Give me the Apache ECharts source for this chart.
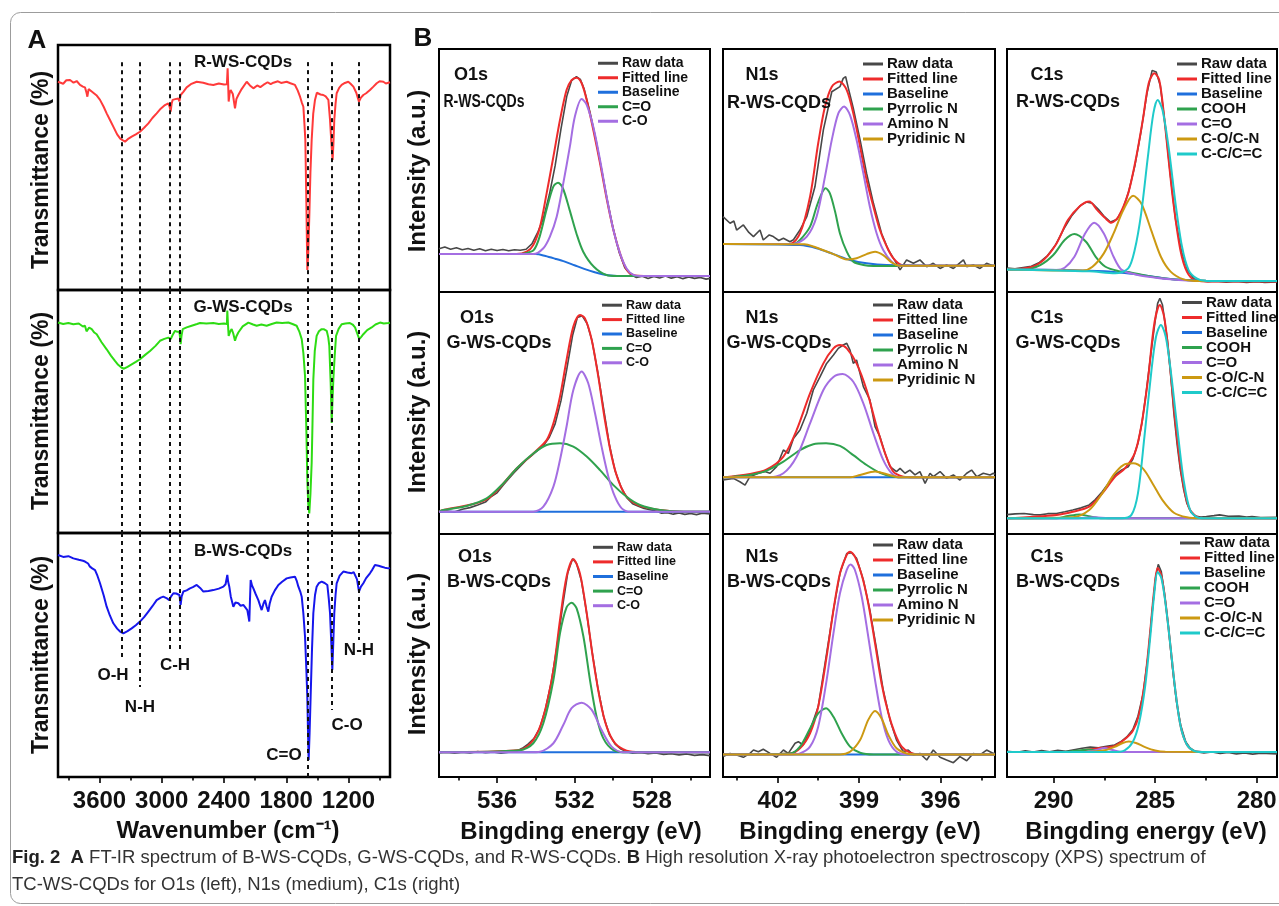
<!DOCTYPE html>
<html><head><meta charset="utf-8">
<script src="https://cdn.jsdelivr.net/npm/echarts@6/dist/echarts.min.js"></script>
<style>html,body{margin:0;padding:0;background:#fff}#c{width:1279px;height:906px}</style>
</head><body><div id="c"></div>
<script>
const FONT = '"Liberation Sans", Arial, sans-serif';
// ---------- FT-IR (panel A): [wavenumber, transmittance a.u.] ----------
const irTicksMajor = [3600,3000,2400,1800,1200];
const irTicksMinor = [3900,3300,2700,2100,1500,900];
const irR = [[4000,85.0],[3950,84.2],[3920,85.6],[3884,85.7],[3850,84.6],[3820,85.3],[3788,83.7],[3760,83.0],[3740,82.7],[3725,80.5],[3717,78.9],[3705,82.0],[3692,82.7],[3675,81.0],[3659,81.6],[3630,79.5],[3595,77.6],[3560,74.8],[3531,72.1],[3500,69.5],[3467,66.7],[3430,63.5],[3400,61.8],[3386,61.2],[3354,60.5],[3320,61.8],[3290,62.6],[3250,63.5],[3210,64.6],[3170,66.2],[3129,68.0],[3090,70.2],[3049,72.1],[3010,74.0],[2969,75.5],[2937,76.2],[2925,75.0],[2914,72.8],[2905,76.0],[2895,77.6],[2870,77.9],[2840,78.2],[2830,77.0],[2818,79.6],[2790,81.0],[2760,82.7],[2720,84.0],[2663,85.0],[2600,84.6],[2550,84.0],[2503,83.7],[2450,84.3],[2400,83.9],[2381,83.7],[2372,84.0],[2365,90.5],[2360,84.0],[2355,76.9],[2345,80.5],[2336,81.6],[2315,80.0],[2294,74.1],[2280,78.0],[2262,79.6],[2230,82.0],[2181,85.0],[2150,83.5],[2117,82.3],[2080,83.5],[2050,82.8],[2021,83.7],[1980,84.8],[1950,84.0],[1924,84.6],[1880,85.2],[1850,84.5],[1796,85.0],[1760,84.4],[1716,83.7],[1690,81.5],[1667,78.9],[1650,76.5],[1635,74.8],[1625,68.0],[1616,61.2],[1607,38.0],[1597,8.2],[1588,15.0],[1578,29.9],[1567,48.0],[1555,61.2],[1540,72.0],[1523,77.6],[1505,80.5],[1491,81.0],[1470,79.8],[1443,79.6],[1420,79.0],[1394,77.6],[1385,73.0],[1378,69.4],[1365,60.0],[1353,53.1],[1345,60.0],[1337,69.4],[1325,76.0],[1314,80.3],[1290,82.5],[1266,83.7],[1235,84.5],[1202,85.0],[1180,84.2],[1153,83.0],[1125,80.5],[1099,76.9],[1080,78.5],[1057,79.6],[1030,80.3],[993,81.6],[960,83.0],[928,84.4],[900,85.2],[864,85.0],[840,84.3],[816,84.6],[800,84.8]];
const irG = [[4000,86.6],[3950,86.0],[3900,86.4],[3852,85.9],[3800,86.2],[3760,85.0],[3740,85.3],[3725,83.0],[3717,82.5],[3700,84.5],[3675,83.9],[3650,82.5],[3627,81.8],[3580,78.5],[3531,75.6],[3490,73.0],[3451,70.8],[3420,69.2],[3386,68.0],[3364,67.6],[3330,68.4],[3290,69.4],[3250,70.4],[3210,71.5],[3160,73.3],[3113,74.9],[3060,77.0],[3017,79.1],[2975,79.9],[2937,80.4],[2925,80.0],[2914,79.8],[2895,81.5],[2872,83.2],[2850,82.8],[2830,82.8],[2822,80.0],[2818,77.7],[2810,81.0],[2798,83.9],[2760,84.6],[2712,85.3],[2660,86.0],[2631,86.4],[2570,86.2],[2503,86.4],[2450,86.0],[2400,86.2],[2381,85.9],[2372,86.0],[2368,91.5],[2362,86.0],[2355,81.1],[2340,83.0],[2326,83.9],[2310,82.0],[2294,79.1],[2280,81.0],[2262,82.5],[2220,85.0],[2165,86.6],[2120,85.8],[2085,85.3],[2040,85.8],[1989,85.3],[1940,86.0],[1892,86.6],[1840,86.4],[1780,86.6],[1740,86.0],[1700,85.3],[1675,83.0],[1651,79.8],[1635,74.0],[1619,64.6],[1605,40.0],[1597,21.9],[1588,12.0],[1578,8.1],[1567,16.0],[1555,28.8],[1547,45.0],[1539,63.2],[1525,75.0],[1507,81.1],[1485,83.0],[1459,83.9],[1435,83.8],[1410,83.2],[1395,80.5],[1385,77.0],[1372,62.0],[1362,45.3],[1354,55.0],[1346,63.2],[1333,73.0],[1320,81.1],[1295,84.0],[1266,85.9],[1230,86.2],[1186,86.4],[1160,85.8],[1137,84.6],[1115,82.0],[1096,79.8],[1075,80.8],[1057,81.8],[1020,83.5],[977,84.6],[940,85.8],[896,86.6],[860,86.2],[816,86.4],[800,86.5]];
const irB = [[4000,91.0],[3950,90.2],[3900,90.5],[3852,89.6],[3800,89.0],[3760,88.6],[3740,88.3],[3710,87.5],[3692,86.2],[3670,85.5],[3643,84.8],[3620,82.5],[3595,79.4],[3560,74.5],[3531,69.8],[3500,66.2],[3467,63.0],[3430,60.8],[3402,59.6],[3370,58.9],[3330,59.8],[3290,60.9],[3250,62.2],[3210,63.7],[3170,65.5],[3129,67.8],[3090,70.0],[3049,72.5],[3010,73.5],[2985,73.9],[2950,73.2],[2927,72.5],[2910,74.0],[2888,75.3],[2860,75.2],[2830,74.6],[2822,72.0],[2818,70.5],[2808,74.0],[2792,76.0],[2760,76.5],[2728,77.3],[2700,77.8],[2663,78.7],[2630,77.5],[2599,76.0],[2550,76.2],[2503,76.6],[2450,77.2],[2406,78.0],[2385,79.0],[2368,82.8],[2360,80.0],[2349,78.0],[2335,74.0],[2326,73.2],[2310,69.8],[2290,71.5],[2262,71.2],[2240,70.2],[2214,70.5],[2195,69.5],[2175,68.4],[2165,66.0],[2156,63.7],[2150,72.0],[2143,80.7],[2130,78.5],[2117,77.3],[2095,75.0],[2069,72.5],[2050,70.0],[2037,68.4],[2020,71.0],[2005,72.5],[1990,70.0],[1973,67.8],[1960,71.0],[1941,73.9],[1910,76.5],[1876,78.7],[1840,80.0],[1796,81.4],[1760,81.8],[1716,82.1],[1700,80.5],[1683,78.0],[1665,76.0],[1651,73.9],[1635,67.0],[1619,57.5],[1607,45.0],[1597,32.9],[1590,18.0],[1584,7.0],[1575,18.0],[1565,32.9],[1552,52.0],[1539,67.1],[1523,74.5],[1507,78.0],[1485,79.5],[1459,80.1],[1430,79.5],[1404,78.7],[1390,73.0],[1378,67.1],[1366,55.0],[1356,43.9],[1346,56.0],[1337,67.1],[1325,74.5],[1314,79.4],[1285,82.5],[1250,84.2],[1210,83.8],[1170,83.5],[1150,84.0],[1137,84.2],[1118,81.0],[1099,76.0],[1080,78.0],[1057,79.4],[1030,81.5],[993,83.5],[970,85.0],[945,86.9],[910,86.6],[880,86.2],[850,85.8],[816,85.5],[800,85.7]];
// guide lines: wavenumber, top in first panel, end in last panel
const irGuides = [3386, 3210, 2920, 2824, 1597, 1362, 1099];
const irGuideTop = 93;
const irGuideEnds = [49.2, 36.9, 52.0, 52.0, 0, 27.5, 56.1];
const irBandLabels = [['O-H',3470,41.8],['N-H',3210,28.7],['C-H',2872,45.9],['C=O',1822,9.0],['C-O',1214,21.3],['N-H',1099,52.0]];

// ---------- XPS O1s ----------
const o1sMajor = [536,532,528], o1sMinor = [538,534,530,526];
const rawO1sR = [[539,17.8],[538.7,18.5],[538.4,17.6],[538.1,18.2],[537.8,17.4],[537.5,17.9],[537.2,17.2],[536.9,17.8],[536.6,17.0],[536.3,17.6],[536.0,17.1],[535.7,17.5],[535.4,17.0],[535.1,17.4],[534.8,17.2],[534.5,17.6],[534.2,19.8],[533.9,24.5],[533.6,30.5],[533.3,40.0],[533.0,52.0],[532.7,67.0],[532.4,80.5],[532.15,87.0],[531.9,88.6],[531.7,87.5],[531.5,83.5],[531.2,74.0],[530.9,63.0],[530.6,50.5],[530.3,37.5],[530.0,26.0],[529.7,16.5],[529.4,10.0],[529.1,7.2],[528.8,6.0],[528.5,6.5],[528.2,5.6],[527.9,6.4],[527.6,5.8],[527.3,6.6],[527.0,5.7],[526.7,6.3],[526.4,5.5],[526.1,6.2],[525.8,5.6],[525.5,6.0],[525.2,5.3],[525.0,5.6]];
const fitO1sR = [[539,15.6],[535,15.6],[534.47,16.6],[534.13,19.3],[533.78,26.9],[533.44,40.6],[533.09,55.7],[532.75,70.8],[532.41,83.1],[532.15,87.2],[531.89,88.2],[531.63,85.9],[531.37,79.0],[531.03,66.7],[530.68,53.0],[530.34,38.5],[529.99,25.5],[529.65,15.9],[529.31,9.3],[528.96,7.0],[528.4,6.6],[525,6.6]];
const baseO1sR = [[539,15.6],[534,15.6],[533.5,14.8],[533,13.7],[532.5,12.5],[532,11.0],[531.5,9.5],[531,8.2],[530.5,7.2],[530,6.7],[529.5,6.6],[525,6.6]];
const dblO1sR = [[539,15.6],[535,15.6],[534.5,16.0],[534.1,17.3],[533.8,22.8],[533.45,33.7],[533.1,43.3],[532.85,45.0],[532.6,42.7],[532.25,33.7],[531.9,24.1],[531.55,16.6],[531.0,10.4],[530.35,7.0],[529.8,6.6],[525,6.6]];
const sglO1sR = [[539,15.6],[534.13,15.6],[533.61,18.0],[533.27,22.8],[532.92,31.0],[532.58,44.7],[532.24,59.8],[531.98,72.2],[531.63,79.4],[531.37,77.0],[531.03,68.0],[530.68,54.3],[530.34,39.2],[529.99,25.5],[529.65,15.9],[529.31,9.7],[528.96,7.0],[528.6,6.6],[525,6.6]];

const rawO1sG = [[539,9.0],[538.6,9.5],[538.2,9.1],[537.8,10.2],[537.4,10.9],[537.0,12.0],[536.6,13.2],[536.3,15.5],[536.0,17.0],[535.7,20.0],[535.4,22.8],[535.1,25.5],[534.8,28.0],[534.5,30.5],[534.2,32.5],[533.9,34.5],[533.6,36.5],[533.3,40.0],[533.0,45.5],[532.7,55.0],[532.4,68.0],[532.1,82.0],[531.85,89.5],[531.6,90.2],[531.35,87.0],[531.1,80.0],[530.8,67.0],[530.5,52.0],[530.2,37.0],[529.9,26.0],[529.6,19.5],[529.3,15.0],[529.0,12.5],[528.7,11.5],[528.4,10.5],[528.1,10.0],[527.8,9.5],[527.5,8.6],[527.2,8.8],[526.9,8.2],[526.6,8.7],[526.3,8.1],[526.0,8.5],[525.7,8.0],[525.4,8.6],[525.0,8.3]];
const fitO1sG = [[539,9.2],[538.78,9.9],[536.54,14.3],[534.99,27.1],[534.13,33.3],[533.44,38.8],[533.09,45.7],[532.75,56.7],[532.41,71.9],[532.06,85.7],[531.72,90.5],[531.46,89.1],[531.11,80.2],[530.77,65.0],[530.43,47.1],[530.08,32.0],[529.74,22.3],[529.31,15.4],[528.62,11.6],[527.58,9.9],[526.38,9.2],[525,9.2]];
const baseO1sG = [[539,9.2],[525,9.2]];
const dblO1sG = [[539,9.2],[538.78,9.9],[537.57,11.6],[536.54,14.7],[535.68,20.9],[534.99,27.1],[534.13,33.3],[533.44,36.8],[532.75,37.5],[532.06,36.1],[531.37,32.0],[530.68,26.4],[529.99,20.2],[529.31,15.4],[528.62,12.0],[527.58,9.9],[526.38,9.2],[525,9.2]];
const sglO1sG = [[539,9.2],[534.13,9.2],[533.61,11.3],[533.09,19.6],[532.75,30.6],[532.41,44.4],[532.06,59.5],[531.63,67.1],[531.29,62.3],[530.94,49.9],[530.6,36.1],[530.25,23.7],[529.91,15.4],[529.56,10.6],[529.13,9.2],[525,9.2]];

const rawO1sB = [[539,10.0],[538.6,10.4],[538.2,9.8],[537.8,10.3],[537.4,9.9],[537.0,10.5],[536.6,10.0],[536.2,10.3],[535.8,9.8],[535.4,10.2],[535.0,10.6],[534.7,11.8],[534.4,13.5],[534.1,15.8],[533.8,20.0],[533.5,28.0],[533.2,39.0],[532.9,54.0],[532.6,71.0],[532.35,84.0],[532.1,89.8],[531.9,88.0],[531.65,81.0],[531.4,69.0],[531.1,52.0],[530.8,37.0],[530.5,25.0],[530.2,17.5],[529.9,13.5],[529.6,11.5],[529.3,10.4],[529.0,9.8],[528.6,10.1],[528.2,9.6],[527.8,9.9],[527.4,9.3],[527.0,9.6],[526.6,9.1],[526.2,9.5],[525.8,8.9],[525.4,9.2],[525.0,8.8]];
const fitO1sB = [[539,10.2],[534.82,11.1],[534.13,15.2],[533.61,24.8],[533.09,44.0],[532.75,64.6],[532.41,82.4],[532.06,89.6],[531.72,83.8],[531.37,67.4],[531.03,48.1],[530.68,31.7],[530.34,20.7],[529.91,13.9],[529.31,10.8],[528.6,10.2],[525,10.2]];
const baseO1sB = [[539,10.2],[525,10.2]];
const dblO1sB = [[539,10.2],[534.82,11.0],[534.13,13.9],[533.61,22.1],[533.09,39.9],[532.75,59.1],[532.41,69.8],[532.15,71.7],[531.89,69.4],[531.54,57.8],[531.2,39.9],[530.86,24.8],[530.51,15.9],[529.99,11.1],[529.3,10.2],[525,10.2]];
const sglO1sB = [[539,10.2],[534.3,10.2],[533.78,10.4],[533.09,13.9],[532.58,21.4],[532.15,28.3],[531.63,30.6],[531.11,27.6],[530.6,19.3],[530.08,12.5],[529.48,10.2],[525,10.2]];

// ---------- XPS N1s ----------
const n1sMajor = [402,399,396], n1sMinor = [403.5,400.5,397.5,394.5];
const rawN1sR = [[404,31.0],[403.93,31.0],[403.74,28.3],[403.6,29.2],[403.5,25.5],[403.25,27.6],[403.05,24.5],[402.88,22.8],[402.64,25.5],[402.52,21.4],[402.3,23.5],[402.15,22.8],[401.95,21.2],[401.78,22.1],[401.54,20.7],[401.41,21.5],[401.17,25.5],[400.92,31.0],[400.62,43.3],[400.31,66.7],[400.0,82.4],[399.7,84.5],[399.58,87.9],[399.49,88.6],[399.39,83.8],[399.21,75.6],[398.96,62.6],[398.72,48.8],[398.47,36.5],[398.17,24.1],[397.92,17.3],[397.62,11.8],[397.49,9.1],[397.25,13.2],[397.0,11.8],[396.76,13.2],[396.51,10.4],[396.27,11.8],[396.02,9.7],[395.78,11.1],[395.53,9.7],[395.16,13.2],[395.04,10.4],[394.8,11.1],[394.55,9.7],[394.31,11.8],[394.06,10.7],[394,10.9]];
const fitN1sR = [[404,19.8],[401.54,19.8],[401.17,24.1],[400.8,39.2],[400.5,61.2],[400.25,76.3],[400.0,84.5],[399.72,86.6],[399.45,83.1],[399.21,73.5],[398.96,59.8],[398.72,46.1],[398.47,35.1],[398.23,25.5],[397.98,18.7],[397.74,13.9],[397.43,11.1],[396.88,10.8],[394,10.8]];
const baseN1sR = [[404,19.8],[401.17,19.3],[400.56,18.0],[399.94,15.6],[399.33,13.2],[398.72,11.8],[397.98,11.1],[394,10.8]];
const pyrrN1sR = [[404,19.8],[401.41,19.8],[401.17,21.4],[400.8,26.9],[400.56,35.1],[400.37,40.6],[400.23,42.7],[400.07,40.6],[399.88,33.1],[399.7,24.1],[399.45,16.6],[399.21,12.5],[398.84,11.1],[398.47,10.7],[394,10.8]];
const aminoN1sR = [[404,19.8],[401.41,19.8],[400.92,22.8],[400.56,31.0],[400.25,47.5],[400.0,62.6],[399.76,73.5],[399.55,76.3],[399.33,72.8],[399.09,62.6],[398.84,48.8],[398.6,35.1],[398.35,24.1],[398.11,17.3],[397.8,12.5],[397.49,10.8],[394,10.8]];
const pyridN1sR = [[404,19.8],[401.0,19.6],[400.68,18.7],[399.94,15.6],[399.45,13.4],[399.09,13.9],[398.72,15.6],[398.41,16.6],[398.11,15.2],[397.8,12.2],[397.49,10.8],[394,10.8]];

const rawN1sG = [[404,22.3],[403.93,22.3],[403.62,23.0],[403.38,21.6],[403.19,20.2],[403.01,23.7],[402.7,25.1],[402.46,25.8],[402.27,25.1],[402.03,27.8],[401.78,34.7],[401.6,33.3],[401.41,39.5],[401.17,43.0],[400.92,49.9],[400.68,59.5],[400.43,65.0],[400.19,70.5],[399.94,74.0],[399.76,76.7],[399.58,78.1],[399.45,78.8],[399.33,76.0],[399.21,70.5],[399.09,71.9],[398.84,60.9],[398.6,55.4],[398.41,44.4],[398.23,40.2],[398.04,33.3],[397.86,27.8],[397.62,25.8],[397.49,27.1],[397.31,25.1],[397.13,26.4],[396.94,24.4],[396.76,25.8],[396.57,20.9],[396.39,25.1],[396.27,23.7],[396.02,25.8],[395.78,23.0],[395.53,24.4],[395.29,22.3],[395.04,25.1],[394.86,26.4],[394.67,23.7],[394.43,25.1],[394.18,24.4],[394.06,25.1],[394,24.6]];
const fitN1sG = [[404,23.4],[403.01,24.8],[402.39,26.7],[401.78,32.0],[401.29,43.0],[400.8,58.1],[400.31,70.5],[399.94,76.7],[399.7,78.1],[399.45,76.7],[399.09,70.5],[398.72,59.5],[398.35,44.4],[398.04,33.3],[397.74,25.8],[397.37,23.7],[397.0,23.4],[394,23.4]];
const baseN1sG = [[404,23.4],[394,23.4]];
const pyrrN1sG = [[404,23.4],[403.62,23.7],[403.01,24.4],[402.39,26.2],[401.78,29.9],[401.17,34.7],[400.68,37.1],[400.21,37.5],[399.7,36.4],[399.21,32.6],[398.72,28.5],[398.23,25.3],[397.74,23.7],[397.25,23.4],[394,23.4]];
const aminoN1sG = [[404,23.4],[402.39,23.4],[401.78,25.1],[401.29,32.0],[400.8,45.7],[400.31,59.5],[399.94,64.9],[399.6,66.1],[399.21,62.9],[398.84,54.0],[398.47,41.6],[398.11,30.6],[397.8,25.1],[397.49,23.4],[394,23.4]];
const pyridN1sG = [[404,23.4],[399.33,23.4],[398.96,24.4],[398.41,25.8],[397.98,24.7],[397.49,23.4],[394,23.4]];

const rawN1sB = [[404,8.4],[403.93,8.1],[403.74,9.7],[403.5,9.1],[403.25,8.1],[403.01,9.7],[402.88,11.1],[402.7,10.4],[402.52,11.4],[402.27,9.7],[402.03,8.1],[401.78,11.1],[401.6,9.7],[401.35,13.9],[401.23,14.5],[401.05,13.2],[400.8,19.3],[400.5,28.9],[400.19,50.9],[399.94,68.7],[399.7,83.8],[399.45,92.0],[399.27,92.3],[399.09,90.0],[398.84,81.1],[398.6,68.7],[398.35,52.3],[398.11,35.8],[397.86,23.5],[397.62,15.2],[397.37,10.4],[397.19,11.1],[397.0,9.1],[396.76,9.7],[396.51,7.0],[396.27,11.1],[396.02,8.1],[395.78,7.0],[395.53,5.9],[395.29,8.4],[395.04,6.7],[394.8,9.7],[394.55,9.1],[394.31,11.1],[394.06,9.7],[394,9.9]];
const fitN1sB = [[404,9.3],[401.54,9.7],[401.17,11.8],[400.8,18.0],[400.5,28.9],[400.19,49.5],[399.94,68.7],[399.7,83.8],[399.45,91.4],[399.33,92.7],[399.15,90.7],[398.9,83.1],[398.66,71.5],[398.41,55.0],[398.17,38.5],[397.92,26.2],[397.68,18.0],[397.43,12.5],[397.12,10.0],[396.76,9.3],[394,9.3]];
const baseN1sB = [[404,9.3],[394,9.3]];
const pyrrN1sB = [[404,9.3],[401.54,9.7],[401.17,12.5],[400.8,20.0],[400.5,26.2],[400.21,28.3],[399.94,24.8],[399.64,18.0],[399.33,12.5],[398.96,10.0],[398.47,9.3],[394,9.3]];
const aminoN1sB = [[404,9.3],[401.5,9.3],[401.17,9.7],[400.8,12.5],[400.5,20.7],[400.19,39.9],[399.94,59.1],[399.7,75.6],[399.45,85.2],[399.31,87.5],[399.15,85.2],[398.9,74.2],[398.66,57.8],[398.41,39.9],[398.17,24.8],[397.92,15.2],[397.62,10.4],[397.25,9.3],[394,9.3]];
const pyridN1sB = [[404,9.3],[399.7,9.3],[399.33,10.4],[398.96,15.2],[398.66,23.5],[398.41,27.2],[398.17,24.1],[397.92,17.3],[397.62,11.8],[397.25,9.7],[396.88,9.3],[394,9.3]];

// ---------- XPS C1s ----------
const c1sMajor = [290,285,280], c1sMinor = [287.5,282.5];
const rawC1sR = [[292.3,9.9],[291.9,9.6],[291.5,10.1],[291.1,10.6],[290.7,12.2],[290.3,15.0],[289.9,19.5],[289.5,26.0],[289.1,31.5],[288.7,35.5],[288.4,37.0],[288.1,36.5],[287.8,34.0],[287.5,31.0],[287.2,28.8],[286.9,29.8],[286.6,34.0],[286.3,41.5],[286.0,52.0],[285.7,66.0],[285.4,82.0],[285.15,91.2],[284.95,90.5],[284.75,85.0],[284.5,68.0],[284.25,48.0],[284.0,30.0],[283.7,16.5],[283.4,8.8],[283.1,5.5],[282.8,4.6],[282.4,4.2],[282.0,4.4],[281.5,4.0],[281.0,4.3],[280.5,3.9],[280.0,4.2],[279.6,3.9],[279.0,4.1]];
const fitC1sR = [[292.3,9.3],[291.14,10.2],[290.5,13.2],[289.86,20.0],[289.3,29.6],[288.74,35.1],[288.25,37.2],[287.85,33.7],[287.45,30.3],[287.16,28.5],[286.81,31.0],[286.33,40.6],[285.93,55.7],[285.61,70.8],[285.32,85.9],[285.04,90.0],[284.8,87.2],[284.56,72.2],[284.32,52.9],[284.08,35.1],[283.76,17.3],[283.44,8.4],[283.04,4.9],[282.2,4.3],[279.0,4.3]];
const baseC1sR = [[292.3,9.3],[289,9.0],[287.5,8.5],[286.5,7.8],[285.5,6.8],[284.5,5.6],[283.5,4.9],[282.5,4.6],[279.0,4.5]];
const coohC1sR = [[292.3,9.3],[291.46,9.3],[290.66,11.1],[290.02,15.2],[289.46,21.4],[288.98,23.9],[288.41,20.7],[287.93,14.5],[287.45,10.4],[286.81,8.6],[286.33,8.2],[285.5,6.8],[284.5,5.6],[283.5,4.9],[282.5,4.6],[279.0,4.5]];
const ketC1sR = [[292.3,9.3],[289.86,9.1],[289.46,10.0],[288.98,14.5],[288.49,23.5],[288.01,28.5],[287.53,24.1],[287.05,14.5],[286.65,9.1],[285.85,7.0],[285.05,6.0],[284.24,5.2],[283.44,4.7],[282.64,4.5],[279.0,4.5]];
const cocnC1sR = [[292.3,9.3],[288.57,8.8],[288.09,10.4],[287.53,15.9],[287.05,24.1],[286.57,33.7],[286.09,39.6],[285.69,36.5],[285.2,25.5],[284.72,14.5],[284.24,8.4],[283.6,5.2],[282.8,4.5],[279.0,4.5]];
const ccC1sR = [[292.3,9.3],[288.25,8.5],[286.97,7.7],[286.33,9.7],[286.01,17.3],[285.69,32.4],[285.36,55.7],[285.09,73.5],[284.88,79.0],[284.64,74.9],[284.32,58.4],[284.0,36.5],[283.68,18.7],[283.36,9.1],[282.96,5.6],[282.48,4.5],[279.0,4.5]];

const rawC1sG = [[292.3,8.0],[291.9,8.3],[291.46,8.5],[291.0,8.0],[290.66,7.9],[290.3,8.4],[289.86,8.5],[289.45,9.2],[289.06,9.9],[288.65,10.8],[288.25,12.0],[287.95,14.2],[287.61,17.5],[287.3,21.0],[286.97,24.4],[286.65,26.5],[286.33,27.8],[286.1,31.0],[285.85,37.5],[285.65,46.0],[285.45,58.1],[285.25,72.0],[285.04,85.7],[284.88,95.3],[284.77,97.4],[284.64,94.6],[284.4,80.2],[284.24,66.0],[284.08,49.9],[283.92,37.0],[283.76,26.4],[283.6,18.5],[283.44,12.7],[283.24,9.0],[283.04,7.4],[282.75,7.0],[282.48,7.2],[282.1,7.6],[281.83,7.9],[281.4,7.3],[280.87,7.4],[280.5,7.0],[280.23,7.2],[279.8,6.8],[279.0,6.9]];
const fitC1sG = [[292.3,6.5],[289.86,7.9],[289.06,9.2],[288.25,11.3],[287.61,16.8],[286.97,23.7],[286.49,27.1],[286.01,33.3],[285.69,44.4],[285.36,63.6],[285.04,87.1],[284.77,94.6],[284.56,89.8],[284.32,73.3],[284.0,45.7],[283.68,23.7],[283.36,11.3],[282.96,7.2],[282.48,6.5],[279.0,6.5]];
const baseC1sG = [[292.3,6.5],[279.0,6.5]];
const coohC1sG = [[292.3,6.5],[289.86,6.5],[289.3,7.4],[288.73,8.1],[288.2,7.2],[287.6,6.5],[279.0,6.5]];
const ketC1sG = [[292.3,6.5],[288.8,6.5],[288.0,6.9],[287.3,6.5],[279.0,6.5]];
const cocnC1sG = [[292.3,6.5],[289.06,6.9],[288.25,9.9],[287.61,16.8],[287.05,24.4],[286.57,28.5],[286.09,29.2],[285.61,27.1],[285.13,20.9],[284.64,14.0],[284.08,8.8],[283.44,6.9],[282.8,6.5],[279.0,6.5]];
const ccC1sG = [[292.3,6.5],[286.65,6.5],[286.17,7.9],[285.85,16.8],[285.53,40.2],[285.2,66.4],[284.96,81.5],[284.72,86.4],[284.48,81.5],[284.24,67.8],[283.92,44.4],[283.6,22.3],[283.28,9.9],[282.88,6.7],[282.48,6.5],[279.0,6.5]];

const rawC1sB = [[292.3,10.6],[291.8,10.2],[291.4,10.8],[291.0,10.3],[290.6,10.9],[290.2,10.4],[289.8,11.0],[289.4,10.6],[289.0,11.2],[288.6,11.8],[288.2,12.3],[287.8,12.0],[287.4,12.6],[287.0,13.2],[286.7,14.5],[286.4,16.5],[286.1,19.5],[285.85,25.0],[285.6,34.0],[285.35,50.0],[285.15,68.0],[284.98,82.0],[284.85,87.5],[284.7,84.5],[284.55,76.0],[284.35,62.0],[284.15,45.0],[283.95,31.0],[283.75,21.5],[283.5,14.5],[283.25,11.5],[283.0,10.4],[282.6,9.9],[282.2,10.3],[281.8,9.7],[281.4,10.1],[281.0,9.5],[280.6,9.9],[280.2,9.4],[279.8,9.8],[279.0,9.5]];
const fitC1sB = [[292.3,10.3],[289.0,10.4],[288.3,11.3],[287.6,12.0],[287.0,12.8],[286.5,15.5],[286.1,19.0],[285.8,25.5],[285.5,40.0],[285.25,59.5],[285.05,77.0],[284.88,86.0],[284.7,83.0],[284.5,72.5],[284.25,54.0],[284.0,35.0],[283.75,21.0],[283.45,13.5],[283.1,10.8],[282.7,10.3],[279.0,10.3]];
const baseC1sB = [[292.3,10.3],[279.0,10.3]];
const coohC1sB = [[292.3,10.3],[289.5,10.3],[288.8,10.9],[288.3,11.3],[287.8,10.9],[287.2,10.3],[279.0,10.3]];
const ketC1sB = [[292.3,10.3],[288.4,10.3],[287.9,11.1],[287.5,11.9],[287.1,11.1],[286.6,10.3],[279.0,10.3]];
const cocnC1sB = [[292.3,10.3],[288.2,10.4],[287.5,11.0],[287.0,12.4],[286.6,14.0],[286.3,14.6],[285.95,14.0],[285.5,12.3],[285.0,10.9],[284.5,10.4],[279.0,10.3]];
const ccC1sB = [[292.3,10.3],[287.0,10.3],[286.5,11.0],[286.1,14.5],[285.8,22.0],[285.5,37.0],[285.25,57.0],[285.05,75.0],[284.88,84.4],[284.7,82.0],[284.5,72.0],[284.25,54.0],[284.0,35.0],[283.75,21.0],[283.45,13.5],[283.1,10.8],[282.7,10.3],[279.0,10.3]];

// ---------- build ----------
const COL = {raw:'#484848', fit:'#ee2b2b', base:'#1f6fdc', green:'#2fa24e', purple:'#a46ee2', gold:'#cc9912', teal:'#1fcaca',
  irR:'#ff3a3a', irG:'#2edc14', irB:'#1616ec'};
const grids=[], xAxes=[], yAxes=[], series=[], legends=[], els=[];

function addPanel(box, range, majors, minors, showAxis, bw){
  const gi = grids.length;
  grids.push({left:box[0], top:box[1], width:box[2], height:box[3], show:true, borderColor:'#000', borderWidth:bw,
    backgroundColor:'transparent', containLabel:false, outerBoundsMode:'none'});
  const common = {type:'value', gridIndex:gi, min:range[0], max:range[1], inverse:true, position:'bottom', axisLine:{show:false}, splitLine:{show:false}};
  xAxes.push(Object.assign({}, common, {
    axisTick:{show:showAxis, inside:false, length:6, lineStyle:{color:'#000', width:1.6}, customValues:majors},
    axisLabel:{show:showAxis, customValues:majors, margin:12, fontSize:24, fontWeight:'bold', color:'#111', fontFamily:FONT,
      formatter:(v) => String(v)}}));
  xAxes.push(Object.assign({}, common, {
    axisTick:{show:showAxis, inside:false, length:3.5, lineStyle:{color:'#000', width:1.6}, customValues:minors},
    axisLabel:{show:false}}));
  yAxes.push({type:'value', gridIndex:gi, min:0, max:100, show:false});
  return gi;
}
function addLine(gi, name, data, color, width, smooth, extra){
  series.push(Object.assign({type:'line', name, xAxisIndex:2*gi, yAxisIndex:gi, data, symbol:'none', showSymbol:false,
    smooth: smooth ? 0.3 : false, lineStyle:{color, width}, itemStyle:{color}, silent:true, animation:false}, extra||{}));
}

// Panel A
const irPanels = [[irR, COL.irR, 45, 245], [irG, COL.irG, 290, 243], [irB, COL.irB, 533, 244]];
irPanels.forEach((p, k) => {
  const gi = addPanel([58, p[2], 332, p[3]], [800, 4000], irTicksMajor, irTicksMinor, k === 2, 2.5);
  const guides = irGuides.map((w, i) => [{coord:[w, k === 0 ? irGuideTop : 100]}, {coord:[w, k === 2 ? irGuideEnds[i] : 0]}]);
  const extra = {markLine:{silent:true, symbol:['none','none'], label:{show:false}, animation:false,
    lineStyle:{type:[4,4], color:'#111', width:2}, data:guides}};
  if (k === 2) {
    extra.markPoint = {symbol:'rect', symbolSize:1, itemStyle:{color:'rgba(0,0,0,0)'}, animation:false,
      label:{show:true, position:'inside', formatter:'{b}', fontSize:17, fontWeight:'bold', color:'#111', fontFamily:FONT},
      data: irBandLabels.map(b => ({name:b[0], coord:[b[1], b[2]]}))};
  }
  addLine(gi, ['R','G','B'][k] + '-WS-CQDs FT-IR', p[0], p[1], 2, false, extra);
});

// Panel B
const colBox = [[439,271],[723,272],[1007,270]];
const rowBox = [[49,243],[292,242],[534,243]];
const o1sSets = [[rawO1sR,fitO1sR,baseO1sR,dblO1sR,sglO1sR],[rawO1sG,fitO1sG,baseO1sG,dblO1sG,sglO1sG],[rawO1sB,fitO1sB,baseO1sB,dblO1sB,sglO1sB]];
const n1sSets = [[rawN1sR,fitN1sR,baseN1sR,pyrrN1sR,aminoN1sR,pyridN1sR],[rawN1sG,fitN1sG,baseN1sG,pyrrN1sG,aminoN1sG,pyridN1sG],[rawN1sB,fitN1sB,baseN1sB,pyrrN1sB,aminoN1sB,pyridN1sB]];
const c1sSets = [[rawC1sR,fitC1sR,baseC1sR,coohC1sR,ketC1sR,cocnC1sR,ccC1sR],[rawC1sG,fitC1sG,baseC1sG,coohC1sG,ketC1sG,cocnC1sG,ccC1sG],[rawC1sB,fitC1sB,baseC1sB,coohC1sB,ketC1sB,cocnC1sB,ccC1sB]];
const o1sNames = ['Raw data','Fitted line','Baseline','C=O','C-O'];
const n1sNames = ['Raw data','Fitted line','Baseline','Pyrrolic N','Amino N','Pyridinic N'];
const c1sNames = ['Raw data','Fitted line','Baseline','COOH','C=O','C-O/C-N','C-C/C=C'];
const o1sCols = [COL.raw, COL.fit, COL.base, COL.green, COL.purple];
const n1sCols = [COL.raw, COL.fit, COL.base, COL.green, COL.purple, COL.gold];
const c1sCols = [COL.raw, COL.fit, COL.base, COL.green, COL.purple, COL.gold, COL.teal];
const colDefs = [
  {sets:o1sSets, names:o1sNames, cols:o1sCols, range:[525,539], major:o1sMajor, minor:o1sMinor},
  {sets:n1sSets, names:n1sNames, cols:n1sCols, range:[394,404], major:n1sMajor, minor:n1sMinor},
  {sets:c1sSets, names:c1sNames, cols:c1sCols, range:[279,292.3], major:c1sMajor, minor:c1sMinor}
];
// legend placement per [col][row]: left, top, fontSize, rowHeight
const legPos = [
  [[598,56,14,14.5],[602,298,12.5,14.4],[593,540,12.5,14.6]],
  [[863,56.5,15,13.4],[873,297.5,15,13.3],[873,537.5,15,13.4]],
  [[1177,56.5,15,13.4],[1182,295,15,13.3],[1180,535.5,15,13.4]]
];
colDefs.forEach((cd, c) => {
  rowBox.forEach((rb, r) => {
    const gi = addPanel([colBox[c][0], rb[0], colBox[c][1], rb[1]], cd.range, cd.major, cd.minor, r === 2, 2);
    cd.sets[r].forEach((d, i) => addLine(gi, cd.names[i], d, cd.cols[i], i === 0 ? 1.6 : 2, i !== 0));
    const lp = legPos[c][r];
    legends.push({orient:'vertical', left:lp[0], top:lp[1], padding:0, itemGap:0, itemWidth:20, itemHeight:3, icon:'rect',
      selectedMode:false, textStyle:{fontSize:lp[2], fontWeight:'bold', color:'#111', fontFamily:FONT, lineHeight:lp[3], padding:[0,0,0,-1]},
      data: cd.names.map((n, i) => ({name:n, itemStyle:{color:cd.cols[i]}}))});
  });
});

// Texts
function T(x, y, text, size, o){
  o = o || {};
  return {type:'text', x, y, rotation:o.rot||0, scaleX:o.sx||1, z:100, silent:true,
    style:{text, fontSize:size, fontWeight:o.w||'bold', fontFamily:FONT, fill:o.c||'#111', align:o.align||'center', verticalAlign:'middle'}};
}
els.push({type:'rect', shape:{x:10.5, y:12.5, width:1300, height:891, r:10}, style:{fill:'none', stroke:'#9c9c9c', lineWidth:1}, silent:true, z:0});
els.push(T(37, 41, 'A', 26));
els.push(T(423, 39, 'B', 26));
els.push(T(243, 62, 'R-WS-CQDs', 17));
els.push(T(243, 307, 'G-WS-CQDs', 17));
els.push(T(243, 551, 'B-WS-CQDs', 17));
[170, 411, 655].forEach(y => els.push(T(42, y, 'Transmittance (%)', 23, {rot:Math.PI/2})));
[171, 412, 654].forEach(y => els.push(T(418, y, 'Intensity (a.u.)', 24, {rot:Math.PI/2})));
els.push(T(228, 831, 'Wavenumber (cm\u207B\u00B9)', 24));
[581, 860, 1146].forEach(x => els.push(T(x, 832, 'Bingding energy (eV)', 24)));
const samp = ['R-WS-CQDs','G-WS-CQDs','B-WS-CQDs'];
const titleY = [[75,102],[318,343],[557,582]];
els.push(T(471, titleY[0][0], 'O1s', 18)); els.push(T(484, titleY[0][1], samp[0], 18, {sx:0.78}));
els.push(T(477, titleY[1][0], 'O1s', 18)); els.push(T(499, titleY[1][1], samp[1], 18));
els.push(T(475, titleY[2][0], 'O1s', 18)); els.push(T(499, titleY[2][1], samp[2], 18));
[0,1,2].forEach(r => {
  els.push(T(762, titleY[r][0], 'N1s', 18)); els.push(T(779, titleY[r][1] + (r===0?1:0), samp[r], 18));
  els.push(T(1047, titleY[r][0], 'C1s', 18)); els.push(T(1068, titleY[r][1], samp[r], 18));
});
els.push({type:'text', x:12, y:858, z:100, silent:true, style:{
  text:'{b|Fig. 2}  {b|A} FT-IR spectrum of B-WS-CQDs, G-WS-CQDs, and R-WS-CQDs. {b|B} High resolution X-ray photoelectron spectroscopy (XPS) spectrum of',
  fontSize:18.5, fontFamily:FONT, fill:'#333', align:'left', verticalAlign:'middle',
  rich:{b:{fontSize:18.5, fontWeight:'bold', fontFamily:FONT, fill:'#222'}}}});
els.push({type:'text', x:12, y:885, z:100, silent:true, style:{
  text:'TC-WS-CQDs for O1s (left), N1s (medium), C1s (right)', fontSize:18.5, fontFamily:FONT, fill:'#333', align:'left', verticalAlign:'middle'}});

const chart = echarts.init(document.getElementById('c'), null, {renderer:'canvas'});
chart.setOption({animation:false, backgroundColor:'#fff', grid:grids, xAxis:xAxes, yAxis:yAxes, series, legend:legends, graphic:{elements:els}});
</script></body></html>
